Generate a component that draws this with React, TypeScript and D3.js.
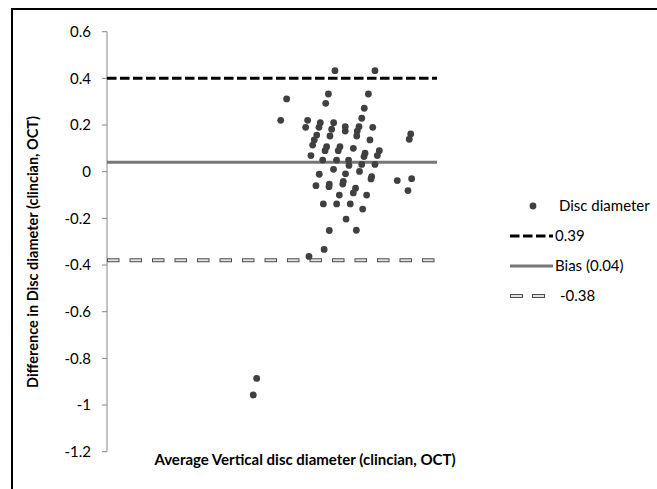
import React from 'react';
import * as d3 from 'd3';

// Bland-Altman: mean of the two measurements vs their difference
const avgDiameter = [
  1.727, 2.030, 1.361, 1.677, 1.657, 1.980, 1.949, 1.930, 1.316, 1.520,
  1.505, 1.616, 1.606, 1.717, 1.702, 1.805, 1.805, 1.909, 1.896, 2.013,
  2.301, 2.290, 1.589, 1.570, 1.558, 1.689, 1.892, 1.992, 1.664, 1.652,
  1.765, 1.752, 1.866, 1.955, 1.947, 2.063, 2.048, 1.545, 1.634, 1.739,
  1.830, 1.833, 1.930, 2.030, 1.716, 1.608, 1.807, 1.913, 2.005, 2.000,
  2.199, 2.308, 2.280, 1.790, 1.786, 1.583, 1.684, 1.682, 1.883, 1.866,
  1.760, 1.967, 1.639, 1.740, 1.843, 1.937, 1.811, 1.684, 1.889, 1.645,
  1.530, 1.134, 1.108,
];
const diffDiameter = [
  0.433, 0.433, 0.312, 0.333, 0.293, 0.333, 0.272, 0.229, 0.220, 0.220,
  0.190, 0.210, 0.190, 0.210, 0.182, 0.193, 0.174, 0.193, 0.174, 0.190,
  0.162, 0.139, 0.157, 0.136, 0.114, 0.153, 0.153, 0.136, 0.107, 0.090,
  0.107, 0.090, 0.100, 0.079, 0.065, 0.090, 0.069, 0.069, 0.050, 0.050,
  0.050, 0.027, 0.031, 0.031, 0.010, -0.011, -0.009, 0.001, -0.021, -0.031,
  -0.038, -0.030, -0.081, -0.042, -0.053, -0.060, -0.053, -0.064, -0.071, -0.091,
  -0.100, -0.100, -0.138, -0.138, -0.138, -0.160, -0.203, -0.252, -0.251, -0.333,
  -0.363, -0.886, -0.957,
];

const upperLimit = 0.40;
const bias = 0.04;
const lowerLimit = -0.38;

const yTicks = [0.6, 0.4, 0.2, 0, -0.2, -0.4, -0.6, -0.8, -1, -1.2];
const legendLabels = ['Disc diameter', '0.39', 'Bias (0.04)', '-0.38'];

const W = 657;
const H = 489;
const FONT = 'Lato, "Liberation Sans", sans-serif';

export default function App() {
  const x = d3.scaleLinear().domain([0, 2.5]).range([107, 437]);
  const y = d3.scaleLinear().domain([-1.2, 0.6]).range([451.7, 31.7]);

  const points = avgDiameter.map((a, i) => ({ a, d: diffDiameter[i] }));
  const x0 = x(0);
  const x1 = x(2.5);

  const legendX = 510;
  const legendY = [206, 236, 266, 296];

  return (
    <svg
      width={W}
      height={H}
      style={{ position: 'absolute', left: 0, top: 0, background: '#fff' }}
      fontFamily={FONT}
    >
      <rect width={W} height={H} fill="#fff" />
      {/* outer frame */}
      <path d={`M12,${H} V9 H${W}`} fill="none" stroke="#000" strokeWidth={2} />

      {/* y axis */}
      <line x1={x0} x2={x0} y1={y(0.6)} y2={y(-1.2)} stroke="#868686" strokeWidth={1} />
      {yTicks.map(t => (
        <g key={t}>
          <line x1={x0 - 5} x2={x0} y1={y(t)} y2={y(t)} stroke="#868686" />
          <text x={91} y={y(t)} dy="0.35em" textAnchor="end" fontSize={15} fill="#000">
            {t}
          </text>
        </g>
      ))}

      {/* limits of agreement + bias */}
      <line x1={x0} x2={x1} y1={y(upperLimit)} y2={y(upperLimit)}
        stroke="#000" strokeWidth={3} strokeDasharray="9.5,3.5" />
      <line x1={x0} x2={x1} y1={y(bias)} y2={y(bias)} stroke="#767676" strokeWidth={3} />
      <line x1={x0} x2={x1} y1={y(lowerLimit)} y2={y(lowerLimit)}
        stroke="#4d4d4d" strokeWidth={4} strokeDasharray="12.5,10" />
      <line x1={x0 + 1} x2={x1} y1={y(lowerLimit)} y2={y(lowerLimit)}
        stroke="#e0e0e0" strokeWidth={2} strokeDasharray="10.5,12" />

      {/* points */}
      {points.map((p, i) => (
        <circle key={i} cx={x(p.a)} cy={y(p.d)} r={3.4} fill="#404040" />
      ))}

      {/* axis titles */}
      <text x={305} y={465} textAnchor="middle" fontSize={15} fontWeight="bold" fill="#000">
        Average Vertical disc diameter (clincian, OCT)
      </text>
      <text transform="translate(38,252) rotate(-90)" textAnchor="middle" fontSize={14.5}
        fontWeight="bold" fill="#000">
        Difference in Disc diameter (clincian, OCT)
      </text>

      {/* legend */}
      <circle cx={533} cy={legendY[0]} r={3.4} fill="#404040" />
      <line x1={legendX} x2={legendX + 43} y1={legendY[1]} y2={legendY[1]}
        stroke="#000" strokeWidth={3} strokeDasharray="9.5,3.5" />
      <line x1={legendX} x2={legendX + 43} y1={legendY[2]} y2={legendY[2]}
        stroke="#767676" strokeWidth={3} />
      <line x1={legendX} x2={legendX + 36} y1={legendY[3]} y2={legendY[3]}
        stroke="#4d4d4d" strokeWidth={4} strokeDasharray="13,9" />
      <line x1={legendX + 1} x2={legendX + 36} y1={legendY[3]} y2={legendY[3]}
        stroke="#e0e0e0" strokeWidth={2} strokeDasharray="11,11" />
      {legendLabels.map((l, i) => (
        <text key={l} x={i === 0 ? 559 : i === 3 ? 560 : 555} y={legendY[i]} dy="0.35em"
          fontSize={15} fill="#000">
          {l}
        </text>
      ))}
    </svg>
  );
}
